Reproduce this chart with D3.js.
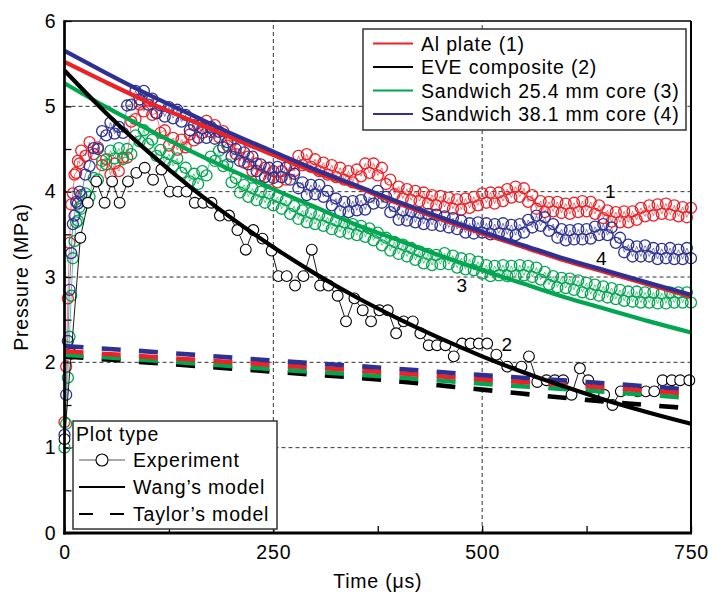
<!DOCTYPE html>
<html>
<head>
<meta charset="utf-8">
<script src="https://cdn.jsdelivr.net/npm/d3@7"></script>
<style>
  body { margin: 0; background: #fff; }
  svg { display: block; font-family: "Liberation Sans", Arial, Helvetica, sans-serif; }
  text { letter-spacing: 0.8px; }
</style>
</head>
<body>
<svg id="chart" width="709" height="593"></svg>
<script>
// ---- Experimental pressure histories (time in microseconds, pressure in MPa) ----
const expTime = [0,2,4,6,8,10,12,14,16,18,20,
  25,30,35,40,45,50,55,60,65,70,75,80,85,90,95,100,
  105,110,115,120,125,130,135,140,145,150,155,160,165,170,175,180,185,190,195,200,
  205,210,215,220,225,230,235,240,245,250,255,260,265,270,275,280,285,290,295,300,
  305,310,315,320,325,330,335,340,345,350,355,360,365,370,375,380,385,390,395,400,
  405,410,415,420,425,430,435,440,445,450,455,460,465,470,475,480,485,490,495,500,
  505,510,515,520,525,530,535,540,545,550,555,560,565,570,575,580,585,590,595,600,
  605,610,615,620,625,630,635,640,645,650,655,660,665,670,675,680,685,690,695,700,
  705,710,715,720,725,730,735,740,745,750];

const expAlPlate = [1.30,1.95,2.75,3.40,3.85,3.98,4.20,4.22,4.36,4.33,4.48,
  4.42,4.58,4.44,4.52,4.31,4.38,4.20,4.33,4.24,4.40,4.40,4.82,4.85,5.02,4.94,5.07,
  4.90,4.92,4.69,4.72,4.54,4.63,4.49,4.61,4.52,4.67,4.60,4.77,4.69,4.83,4.70,4.78,4.64,4.71,4.54,4.61,
  4.44,4.51,4.34,4.41,4.24,4.33,4.19,4.28,4.14,4.24,4.11,4.24,4.14,4.31,4.24,4.42,4.31,4.44,4.29,4.38,
  4.24,4.34,4.20,4.31,4.17,4.28,4.14,4.24,4.11,4.26,4.18,4.33,4.22,4.33,4.19,4.28,4.09,4.14,3.97,4.06,
  3.92,4.03,3.90,4.01,3.89,3.99,3.86,3.96,3.84,3.95,3.82,3.93,3.80,3.91,3.79,3.92,3.81,3.94,3.84,3.98,
  3.87,3.99,3.86,3.99,3.89,4.03,3.93,4.06,3.94,4.04,3.88,3.96,3.80,3.89,3.76,3.88,3.77,3.88,3.75,3.86,
  3.74,3.87,3.76,3.89,3.77,3.88,3.74,3.84,3.69,3.78,3.65,3.76,3.64,3.77,3.64,3.77,3.67,3.81,3.71,3.84,
  3.72,3.85,3.74,3.86,3.73,3.84,3.71,3.82,3.70,3.81];

const expSandwich254 = [1.00,1.28,1.82,2.30,2.78,3.22,3.42,3.64,3.66,3.82,3.80,
  3.98,3.94,4.16,4.14,4.36,4.32,4.48,4.39,4.51,4.38,4.50,4.44,4.66,4.59,4.72,4.56,
  4.61,4.42,4.49,4.34,4.44,4.30,4.39,4.22,4.28,4.12,4.21,4.09,4.24,4.19,4.41,4.36,4.48,4.30,4.32,4.11,
  4.16,3.99,4.08,3.94,4.04,3.90,4.00,3.87,3.98,3.84,3.94,3.80,3.90,3.74,3.83,3.68,3.78,3.64,3.75,3.62,
  3.73,3.60,3.70,3.56,3.66,3.53,3.64,3.51,3.62,3.49,3.60,3.47,3.57,3.43,3.52,3.37,3.46,3.31,3.41,3.27,
  3.38,3.24,3.34,3.20,3.30,3.16,3.27,3.14,3.26,3.15,3.28,3.15,3.25,3.11,3.22,3.09,3.21,3.08,3.18,3.04,
  3.14,3.01,3.13,3.02,3.14,3.01,3.13,3.01,3.14,3.02,3.13,3.00,3.11,2.97,3.06,2.91,3.01,2.88,2.99,2.87,
  2.98,2.85,2.96,2.82,2.93,2.80,2.91,2.78,2.89,2.76,2.87,2.74,2.85,2.72,2.83,2.71,2.83,2.70,2.82,2.70,
  2.82,2.69,2.81,2.69,2.82,2.70,2.82,2.70,2.82,2.70];

const expSandwich381 = [1.15,1.62,2.25,2.85,3.28,3.62,3.72,3.88,3.86,4.00,3.96,
  4.20,4.30,4.51,4.50,4.71,4.66,4.81,4.68,4.76,4.69,5.01,5.02,5.18,5.08,5.18,5.02,
  5.09,4.92,5.01,4.88,4.99,4.86,4.96,4.82,4.90,4.72,4.78,4.63,4.74,4.63,4.76,4.62,4.70,4.52,4.58,4.41,
  4.50,4.36,4.46,4.32,4.41,4.24,4.32,4.17,4.28,4.16,4.29,4.17,4.28,4.14,4.21,4.04,4.11,3.96,4.08,3.97,
  4.08,3.94,4.01,3.84,3.92,3.77,3.88,3.76,3.89,3.78,3.90,3.79,3.94,3.86,4.01,3.87,3.94,3.76,3.83,3.67,
  3.78,3.66,3.77,3.64,3.75,3.62,3.74,3.61,3.73,3.60,3.71,3.58,3.69,3.56,3.66,3.52,3.63,3.51,3.64,3.52,
  3.63,3.50,3.62,3.51,3.63,3.50,3.61,3.49,3.62,3.52,3.67,3.58,3.72,3.60,3.70,3.54,3.62,3.46,3.56,3.43,
  3.55,3.44,3.56,3.44,3.56,3.45,3.59,3.49,3.62,3.49,3.58,3.40,3.46,3.29,3.38,3.24,3.36,3.24,3.37,3.24,
  3.34,3.21,3.33,3.22,3.34,3.21,3.32,3.21,3.34,3.22];

// EVE composite was sampled more coarsely
const expEVETime = [0,8,19,28,38,48,57,66,76,86,
  96,106,116,126,136,146,156,166,176,186,
  197,207,217,226,237,248,256,266,276,286,
  296,306,316,327,337,347,357,367,377,387,
  397,406,417,426,436,446,456,466,476,486,
  496,506,517,530,547,556,566,577,587,597,
  607,617,627,636,646,656,666,676,686,696,
  706,716,727,737,748];
const expEVE = [1.10,2.10,3.46,3.87,4.12,3.87,4.12,3.87,4.12,4.22,
  4.28,4.14,4.26,4.00,4.00,4.00,3.87,3.87,3.87,3.72,
  3.72,3.55,3.32,3.55,3.45,3.31,3.01,3.01,2.90,3.01,
  3.32,2.90,2.90,2.78,2.48,2.75,2.61,2.48,2.61,2.61,
  2.34,2.48,2.48,2.34,2.20,2.20,2.20,2.07,2.22,2.22,
  2.22,2.22,2.09,1.95,1.95,2.07,1.77,1.79,1.79,1.79,
  1.62,1.93,1.79,1.66,1.62,1.50,1.66,1.68,1.66,1.66,
  1.66,1.79,1.79,1.79,1.79];

// ---- Wang's model predictions ----
const wangTime = [0,50,100,150,200,250,300,350,400,450,500,550,600,650,700,750];
const wangAlPlate      = [5.52,5.28,5.05,4.84,4.63,4.43,4.23,4.05,3.86,3.68,3.51,3.35,3.19,3.05,2.91,2.77];
const wangEVE          = [5.42,4.92,4.47,4.06,3.69,3.35,3.04,2.76,2.51,2.28,2.07,1.88,1.71,1.55,1.41,1.28];
const wangSandwich254  = [5.27,4.99,4.73,4.48,4.25,4.03,3.82,3.61,3.43,3.25,3.08,2.92,2.76,2.62,2.48,2.35];
const wangSandwich381  = [5.65,5.39,5.14,4.91,4.68,4.47,4.26,4.07,3.88,3.70,3.53,3.37,3.21,3.07,2.93,2.79];

// ---- Taylor's model predictions ----
const taylorTime = [0,125,250,375,500,625,750];
const taylorAlPlate     = [2.13,2.05,1.97,1.89,1.80,1.72,1.63];
const taylorEVE         = [2.07,1.98,1.89,1.80,1.68,1.56,1.46];
const taylorSandwich254 = [2.09,2.01,1.92,1.84,1.75,1.67,1.58];
const taylorSandwich381 = [2.19,2.11,2.02,1.94,1.85,1.77,1.68];

// ---- Axis ticks and legend text ----
const yTickValues = [0,1,2,3,4,5,6];
const yMinorTicks = [0.5,1.5,2.5,3.5,4.5,5.5];
const xTickValues = [0,250,500,750];
const xMinorTicks = [125,375,625];
const seriesNames = ["Al plate (1)","EVE composite (2)","Sandwich 25.4 mm core (3)","Sandwich 38.1 mm core (4)"];
const plotTypes = ["Experiment","Wang\u2019s model","Taylor\u2019s model"];
const curveLabels = [
  {text:"1", t:654, p:4.01},
  {text:"2", t:530, p:2.21},
  {text:"3", t:476, p:2.91},
  {text:"4", t:643, p:3.22}
];

// ---- Styling ----
const RED = "#ec2227", BLACK = "#000000", GREEN = "#00a650", BLUE = "#2e3192";
const FONT = "19.5px";

const svg = d3.select("#chart");
const x = d3.scaleLinear().domain([0,750]).range([64.5,691]);
const y = d3.scaleLinear().domain([0,6]).range([533,21]);

// dashed grid
const grid = svg.append("g")
  .attr("stroke","#333").attr("stroke-width",1).attr("stroke-dasharray","4,3");
grid.selectAll("line.h").data([1,2,3,4,5]).join("line")
  .attr("x1",x(0)).attr("x2",x(750)).attr("y1",d=>y(d)).attr("y2",d=>y(d));
grid.selectAll("line.v").data([250,500]).join("line")
  .attr("y1",y(0)).attr("y2",y(6)).attr("x1",d=>x(d)).attr("x2",d=>x(d));

// axes with inward ticks
function styleAxis(g){
  g.select(".domain").remove();
  g.attr("font-family",null).attr("font-size",null);
  g.selectAll(".tick line").attr("stroke","#000").attr("stroke-width",1.3);
  g.selectAll("text").style("font-size",FONT).attr("fill","#000");
}
svg.append("g").attr("transform",`translate(${x(0)},0)`)
  .call(d3.axisLeft(y).tickValues(yTickValues).tickFormat(d3.format("d"))
    .tickSizeInner(-7).tickSizeOuter(0).tickPadding(8))
  .call(styleAxis);
svg.append("g").attr("transform",`translate(${x(0)},0)`)
  .call(d3.axisLeft(y).tickValues(yMinorTicks).tickFormat("")
    .tickSizeInner(-7).tickSizeOuter(0))
  .call(styleAxis);
svg.append("g").attr("transform",`translate(0,${y(0)})`)
  .call(d3.axisBottom(x).tickValues(xTickValues).tickFormat(d3.format("d"))
    .tickSizeInner(-7).tickSizeOuter(0).tickPadding(12))
  .call(styleAxis);
svg.append("g").attr("transform",`translate(0,${y(0)})`)
  .call(d3.axisBottom(x).tickValues(xMinorTicks).tickFormat("")
    .tickSizeInner(-7).tickSizeOuter(0))
  .call(styleAxis);

// data layers
const plot = svg.append("g");
const zip = (ts, ps) => ts.map((t,i) => [t, ps[i]]);
const lineGen = d3.line().x(d=>x(d[0])).y(d=>y(d[1]));
const smoothGen = d3.line().x(d=>x(d[0])).y(d=>y(d[1])).curve(d3.curveMonotoneX);

function experiment(ts, ps, color, fill, lw, r, sw){
  const pts = zip(ts, ps);
  plot.append("path").datum(pts).attr("d",lineGen)
    .attr("fill","none").attr("stroke",color).attr("stroke-width",lw);
  plot.append("g").selectAll("circle").data(pts).join("circle")
    .attr("cx",d=>x(d[0])).attr("cy",d=>y(d[1])).attr("r",r)
    .attr("fill",fill).attr("stroke",color).attr("stroke-width",sw);
}
experiment(expTime, expAlPlate, RED, "none", 0.6, 5.5, 1.3);
experiment(expTime, expSandwich254, GREEN, "none", 0.6, 5.5, 1.3);
experiment(expTime, expSandwich381, BLUE, "none", 0.6, 5.5, 1.3);
experiment(expEVETime, expEVE, BLACK, "#fff", 0.9, 5.4, 1.1);

// Taylor's model: thick long dashes
[[taylorEVE,BLACK],[taylorSandwich254,GREEN],[taylorAlPlate,RED],[taylorSandwich381,BLUE]]
  .forEach(([ps,c]) => {
    plot.append("path").datum(zip(taylorTime, ps)).attr("d",smoothGen)
      .attr("fill","none").attr("stroke",c).attr("stroke-width",4.6)
      .attr("stroke-dasharray","19,18.3");
  });

// Wang's model: thick solid lines
[[wangSandwich254,GREEN],[wangEVE,BLACK],[wangAlPlate,RED],[wangSandwich381,BLUE]]
  .forEach(([ps,c]) => {
    plot.append("path").datum(zip(wangTime, ps)).attr("d",smoothGen)
      .attr("fill","none").attr("stroke",c).attr("stroke-width",4.2);
  });

// plot frame
const frame = svg.append("g").attr("stroke","#000").attr("fill","none");
frame.append("line").attr("x1",x(0)).attr("x2",x(750)).attr("y1",y(6)).attr("y2",y(6)).attr("stroke-width",1.6);
frame.append("line").attr("x1",x(750)).attr("x2",x(750)).attr("y1",y(6)).attr("y2",y(0)).attr("stroke-width",2);
frame.append("line").attr("x1",x(0)).attr("x2",x(0)).attr("y1",y(6)-0.8).attr("y2",y(0)+1.5).attr("stroke-width",2.7);
frame.append("line").attr("x1",x(0)-1.3).attr("x2",x(750)+1).attr("y1",y(0)).attr("y2",y(0)).attr("stroke-width",3);

// curve number labels
svg.append("g").selectAll("text").data(curveLabels).join("text")
  .attr("x",d=>x(d.t)).attr("y",d=>y(d.p)+7).attr("text-anchor","middle")
  .style("font-size","19px").text(d=>d.text);

// series legend
const colors = [RED, BLACK, GREEN, BLUE];
const leg1 = svg.append("g");
leg1.append("rect").attr("x",363).attr("y",29).attr("width",323).attr("height",101)
  .attr("fill","#fff").attr("stroke","#333").attr("stroke-width",1.5);
seriesNames.forEach((name,i) => {
  const cy = 43.5 + i*23.5;
  leg1.append("line").attr("x1",373).attr("x2",413).attr("y1",cy).attr("y2",cy)
    .attr("stroke",colors[i]).attr("stroke-width",2);
  leg1.append("text").attr("x",421).attr("y",cy+7).style("font-size",FONT).text(name);
});

// plot type legend
const leg2 = svg.append("g");
leg2.append("rect").attr("x",73).attr("y",421).attr("width",204).attr("height",108)
  .attr("fill","#fff").attr("stroke","#333").attr("stroke-width",1.5);
leg2.append("text").attr("x",76).attr("y",441).style("font-size",FONT).text("Plot type");
const rowY = [460, 487, 514];
leg2.append("line").attr("x1",79).attr("x2",125).attr("y1",rowY[0]).attr("y2",rowY[0])
  .attr("stroke","#555").attr("stroke-width",1);
leg2.append("circle").attr("cx",102).attr("cy",rowY[0]).attr("r",6)
  .attr("fill","#fff").attr("stroke","#000").attr("stroke-width",1.1);
leg2.append("line").attr("x1",79).attr("x2",125).attr("y1",rowY[1]).attr("y2",rowY[1])
  .attr("stroke","#000").attr("stroke-width",2.2);
leg2.append("line").attr("x1",79).attr("x2",125).attr("y1",rowY[2]).attr("y2",rowY[2])
  .attr("stroke","#000").attr("stroke-width",2.2).attr("stroke-dasharray","14,17");
plotTypes.forEach((name,i) => {
  leg2.append("text").attr("x",133).attr("y",rowY[i]+7).style("font-size",FONT).text(name);
});

// axis titles
svg.append("text").attr("x",x(375)).attr("y",588).attr("text-anchor","middle")
  .style("font-size",FONT).text("Time (\u03bcs)");
svg.append("text").attr("transform",`translate(28,${y(3)}) rotate(-90)`)
  .attr("text-anchor","middle").style("font-size",FONT).text("Pressure (MPa)");
</script>
</body>
</html>
